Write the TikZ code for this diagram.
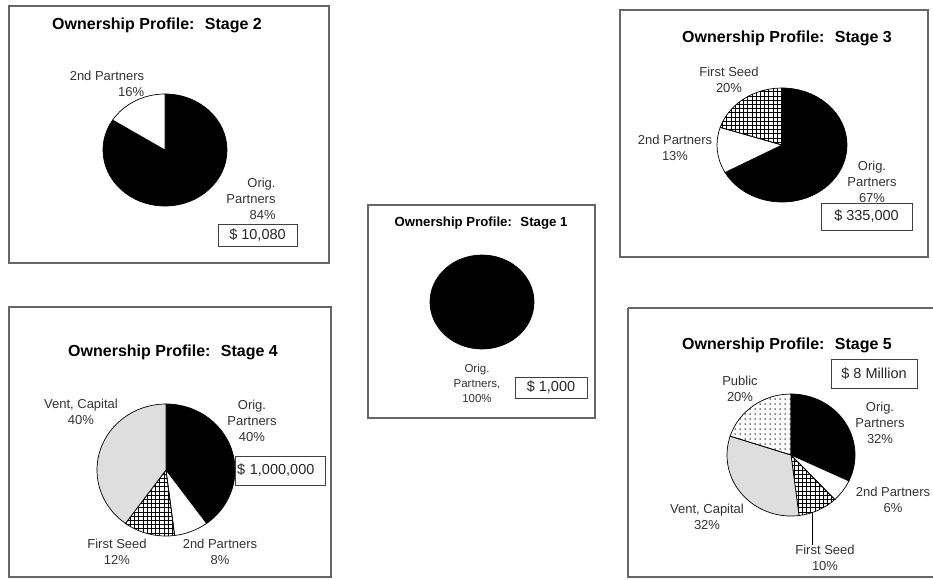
\documentclass[tikz,border=0pt]{standalone}
\usepackage{fontspec}
\setmainfont{Liberation Sans}
\usetikzlibrary{patterns,patterns.meta}

\pgfdeclarepatternformonly{seedgrid}{\pgfqpoint{-1pt}{-1pt}}{\pgfqpoint{5pt}{5pt}}{\pgfqpoint{4.2pt}{4.2pt}}{%
  \pgfsetlinewidth{0.6pt}
  \pgfpathmoveto{\pgfqpoint{0pt}{0pt}}\pgfpathlineto{\pgfqpoint{4.3pt}{0pt}}
  \pgfpathmoveto{\pgfqpoint{0pt}{0pt}}\pgfpathlineto{\pgfqpoint{0pt}{4.3pt}}
  \pgfusepath{stroke}}

\tikzset{
  panel/.style={draw=black!60, line width=1.3pt},
  title/.style={font=\bfseries\fontsize{16}{18}\selectfont, inner sep=0pt},
  smalltitle/.style={font=\bfseries\fontsize{13.2}{15}\selectfont, inner sep=0pt},
  lbl/.style={font=\fontsize{13}{16}\selectfont, align=center, text=black!80, inner sep=0pt},
  smalllbl/.style={font=\fontsize{11.5}{15}\selectfont, align=center, text=black!80, inner sep=0pt},
  money/.style={draw=black!75, line width=0.9pt, fill=white, font=\fontsize{14.5}{16}\selectfont, text=black!85, inner sep=0pt},
  slice/.style={draw=black, line width=0.7pt},
  seed/.style={slice, pattern=seedgrid},
  public/.style={slice, pattern={Dots[distance=5pt, radius=0.75pt]}},
  vent/.style={slice, fill=black!13}
}

\begin{document}
\begin{tikzpicture}[x=1pt,y=1pt]
\useasboundingbox (0,0) rectangle (933,-579);

% stage 2
\draw[panel] (9,-6) rectangle (329,-263);
\node[title] (t2) at (157,-25) {Ownership Profile:~ Stage 2};
\coordinate (c2) at (165,-150);
\filldraw[slice,fill=black] (c2) -- ++(90:62pt and 56pt) arc[start angle=90,end angle=-212.4,x radius=62pt,y radius=56pt] -- cycle;
\filldraw[slice,fill=white] (c2) -- ++(147.6:62pt and 56pt) arc[start angle=147.6,end angle=90,x radius=62pt,y radius=56pt] -- cycle;
\node[lbl,align=right] (p2a) at (107,-84) {2nd Partners\\16\%};
\node[lbl,align=right] (p2b) at (251,-199) {Orig.\\Partners\\84\%};
\node[money,minimum width=79pt,minimum height=22pt] (m2) at (257.5,-235) {\$ 10,080};

% stage 3
\draw[panel] (620,-10) rectangle (928,-257);
\node[title] (t3) at (787,-38) {Ownership Profile:~ Stage 3};
\coordinate (c3) at (782,-145);
\filldraw[slice,fill=black] (c3) -- ++(90:65pt and 57pt) arc[start angle=90,end angle=-151.2,x radius=65pt,y radius=57pt] -- cycle;
\filldraw[slice,fill=white] (c3) -- ++(208.8:65pt and 57pt) arc[start angle=208.8,end angle=162,x radius=65pt,y radius=57pt] -- cycle;
\filldraw[seed] (c3) -- ++(162:65pt and 57pt) arc[start angle=162,end angle=90,x radius=65pt,y radius=57pt] -- cycle;
\node[lbl] (p3a) at (729,-80) {First Seed\\20\%};
\node[lbl] (p3b) at (675,-148) {2nd Partners\\13\%};
\node[lbl] (p3c) at (872,-182) {Orig.\\Partners\\67\%};
\node[money,minimum width=91pt,minimum height=27pt] (m3) at (866.5,-216.5) {\$ 335,000};

% stage 1
\draw[panel] (368,-205) rectangle (595,-418);
\node[smalltitle] (t1) at (481,-223) {Ownership Profile:~ Stage 1};
\filldraw[slice,fill=black] (482,-302) ellipse [x radius=52pt,y radius=47pt];
\node[smalllbl] (p1a) at (477,-383) {Orig.\\Partners,\\100\%};
\node[money,minimum width=72pt,minimum height=21pt] (m1) at (551,-387.5) {\$ 1,000};

% stage 4
\draw[panel] (9,-307) rectangle (331,-577);
\node[title] (t4) at (173,-352) {Ownership Profile:~ Stage 4};
\coordinate (c4) at (166,-470);
\filldraw[slice,fill=black] (c4) -- ++(90:69pt and 66pt) arc[start angle=90,end angle=-54,x radius=69pt,y radius=66pt] -- cycle;
\filldraw[slice,fill=white] (c4) -- ++(-54:69pt and 66pt) arc[start angle=-54,end angle=-82.8,x radius=69pt,y radius=66pt] -- cycle;
\filldraw[seed] (c4) -- ++(-82.8:69pt and 66pt) arc[start angle=-82.8,end angle=-126,x radius=69pt,y radius=66pt] -- cycle;
\filldraw[vent] (c4) -- ++(-126:69pt and 66pt) arc[start angle=-126,end angle=-270,x radius=69pt,y radius=66pt] -- cycle;
\node[lbl] (p4a) at (81,-412) {Vent, Capital\\40\%};
\node[lbl] (p4b) at (252,-421) {Orig.\\Partners\\40\%};
\node[lbl] (p4c) at (117,-552) {First Seed\\12\%};
\node[lbl] (p4d) at (220,-552) {2nd Partners\\8\%};
\node[money,minimum width=90pt,minimum height=29pt,text width=86pt,align=left] (m4) at (280,-470.5) {\$ 1,000,000};

% stage 5
\draw[panel] (628,-308) -- (934,-308) (628,-308) -- (628,-577) -- (934,-577);
\node[title] (t5) at (787,-345) {Ownership Profile:~ Stage 5};
\coordinate (c5) at (791,-455);
\filldraw[slice,fill=black] (c5) -- ++(90:64pt and 61pt) arc[start angle=90,end angle=-25.2,x radius=64pt,y radius=61pt] -- cycle;
\filldraw[slice,fill=white] (c5) -- ++(-25.2:64pt and 61pt) arc[start angle=-25.2,end angle=-46.8,x radius=64pt,y radius=61pt] -- cycle;
\filldraw[seed] (c5) -- ++(-46.8:64pt and 61pt) arc[start angle=-46.8,end angle=-82.8,x radius=64pt,y radius=61pt] -- cycle;
\filldraw[vent] (c5) -- ++(-82.8:64pt and 61pt) arc[start angle=-82.8,end angle=-198,x radius=64pt,y radius=61pt] -- cycle;
\filldraw[public] (c5) -- ++(-198:64pt and 61pt) arc[start angle=-198,end angle=-270,x radius=64pt,y radius=61pt] -- cycle;
\node[money,minimum width=86pt,minimum height=29pt] (m5) at (874,-373.5) {\$ 8 Million};
\node[lbl] (p5a) at (740,-389) {Public\\20\%};
\node[lbl] (p5b) at (880,-423) {Orig.\\Partners\\32\%};
\node[lbl] (p5c) at (893,-500) {2nd Partners\\6\%};
\node[lbl] (p5d) at (707,-517) {Vent, Capital\\32\%};
\node[lbl] (p5e) at (825,-558) {First Seed\\10\%};
\coordinate (fs5) at (812,-512);
\draw[line width=0.8pt] (fs5) -- (fs5 |- p5e.north);

\end{tikzpicture}
\end{document}
